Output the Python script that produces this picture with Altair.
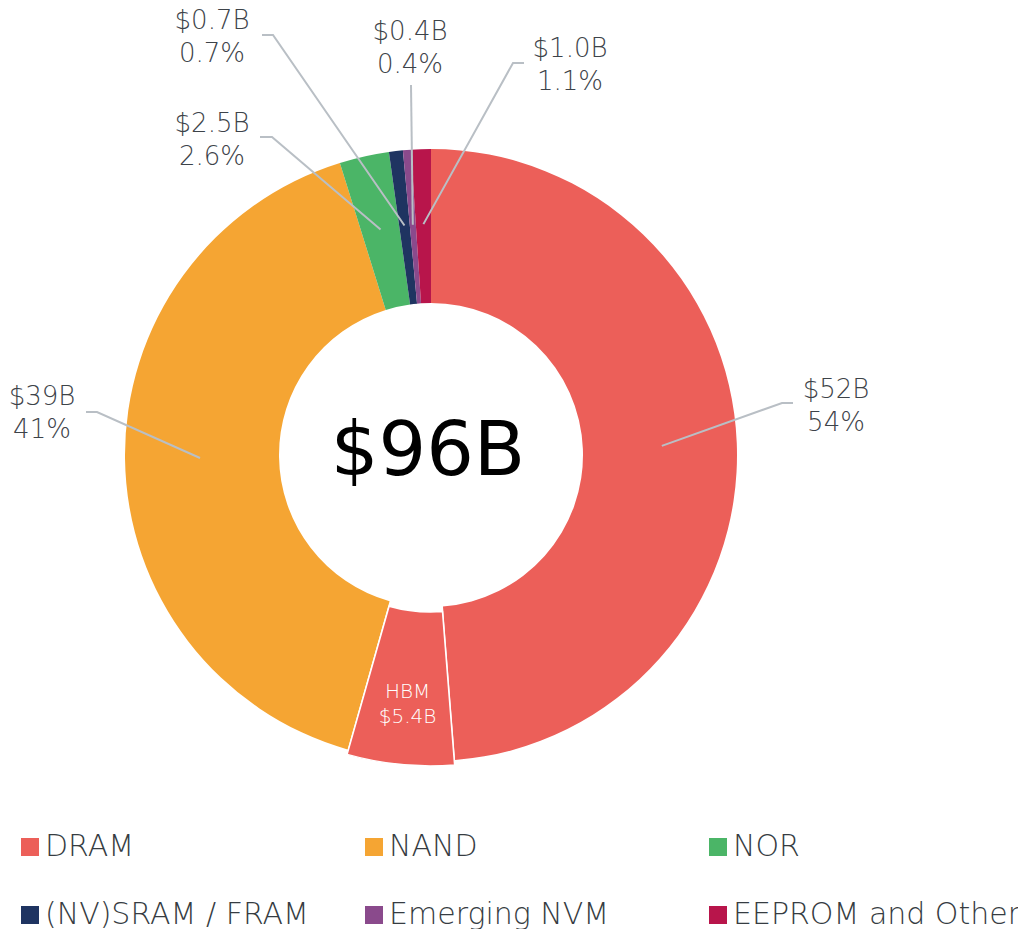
import math
import altair as alt
import pandas as pd

# ---------------- data ----------------
segments = ["DRAM", "HBM", "NAND", "NOR", "(NV)SRAM / FRAM", "Emerging NVM", "EEPROM and Other"]
groups = ["DRAM", "DRAM", "NAND", "NOR", "(NV)SRAM / FRAM", "Emerging NVM", "EEPROM and Other"]
values_b = [46.6, 5.4, 39.0, 2.5, 0.7, 0.4, 1.0]
value_text = ["$52B", "$5.4B", "$39B", "$2.5B", "$0.7B", "$0.4B", "$1.0B"]
share_text = ["54%", "", "41%", "2.6%", "0.7%", "0.4%", "1.1%"]

legend_order = ["DRAM", "NAND", "NOR", "(NV)SRAM / FRAM", "Emerging NVM", "EEPROM and Other"]
legend_colors = ["#EC5F59", "#F5A533", "#4BB567", "#1F3461", "#8A4A8C", "#B8154B"]

# ---------------- layout ----------------
W, H = 1010, 921
CX, CY = 423, 447
R_IN, R_OUT = 152, 306
R_LEAD = 231
EXPLODE = 5
FONT = "DejaVu Sans"
WEIGHT = 300
LABEL_COLOR = "#3d4349"

# label placement (bend point, end point, first-line text centre) per labelled segment
label_layout = {
    "DRAM": ((774, 395), (785, 395), (828, 382)),
    "NAND": ((89, 404), (78, 404), (34, 389)),
    "NOR": ((264, 129), (252, 129), (204, 116)),
    "(NV)SRAM / FRAM": ((265, 27), (254, 27), (204, 13)),
    "Emerging NVM": ((403, 77), (403, 77), (402, 24)),
    "EEPROM and Other": ((505, 55), (516, 55), (562, 41)),
}

TOTAL = sum(values_b)

rows = []
cum = 0.0
for s, g, v, vt, st in zip(segments, groups, values_b, value_text, share_text):
    rows.append(dict(segment=s, group=g, t0=cum, t1=cum + v, mid=cum + v / 2,
                     label=vt + ("\n" + st if st else "")))
    cum += v
df = pd.DataFrame(rows)


def polar(mid_value, r, cx=CX, cy=CY):
    a = mid_value / TOTAL * 2 * math.pi
    return cx + r * math.sin(a), cy - r * math.cos(a)


# leader lines
lead_rows = []
text_rows = []
for r in rows:
    if r["segment"] not in label_layout:
        continue
    bend, end, tc = label_layout[r["segment"]]
    sx, sy = polar(r["mid"], R_LEAD)
    for k, (px, py) in enumerate([(sx, sy), bend, end]):
        lead_rows.append(dict(segment=r["segment"], k=k, px=px, py=py))
    text_rows.append(dict(segment=r["segment"], px=tc[0], py=tc[1], label=r["label"]))
lead_df = pd.DataFrame(lead_rows)
text_df = pd.DataFrame(text_rows)

# HBM explode
hbm = df[df.segment == "HBM"].iloc[0]
ha = hbm["mid"] / TOTAL * 2 * math.pi
HX = CX + EXPLODE * math.sin(ha)
HY = CY - EXPLODE * math.cos(ha)
hx_t, hy_t = polar(hbm["mid"], 233, HX, HY)
hbm_text_df = pd.DataFrame([dict(px=hx_t, py=hy_t, label="HBM\n" + hbm["label"])])

center_df = pd.DataFrame([dict(px=CX - 3, py=CY - 3, label=f"${round(TOTAL)}B")])

xs = alt.Scale(domain=[0, W], nice=False, zero=False)
ys = alt.Scale(domain=[0, H], nice=False, zero=False, reverse=True)
theta_scale = alt.Scale(domain=[0, TOTAL])
color_scale = alt.Scale(domain=legend_order, range=legend_colors)

base = alt.Chart(df)

main_arc = base.transform_filter(alt.datum.segment != "HBM").mark_arc(
    innerRadius=R_IN, outerRadius=R_OUT
).encode(
    theta=alt.Theta("t0:Q", scale=theta_scale, stack=None),
    theta2="t1:Q",
    x=alt.value(CX),
    y=alt.value(CY),
    color=alt.Color("group:N", scale=color_scale, sort=legend_order,
                    legend=alt.Legend(
                        title=None, orient="none", legendX=7, legendY=824,
                        direction="horizontal", columns=3, gridAlign="all",
                        columnPadding=26, rowPadding=38, symbolType="square",
                        symbolSize=324, symbolStrokeWidth=0, labelFontSize=30,
                        labelFont=FONT, labelFontWeight=WEIGHT,
                        labelColor="#363c42", labelOffset=0,
                        labelLimit=500, padding=0,
                    )),
)

hbm_arc = base.transform_filter(alt.datum.segment == "HBM").mark_arc(
    innerRadius=R_IN, outerRadius=R_OUT, stroke="white", strokeWidth=1.5
).encode(
    theta=alt.Theta("t0:Q", scale=theta_scale, stack=None),
    theta2="t1:Q",
    x=alt.value(HX),
    y=alt.value(HY),
    color=alt.Color("group:N", scale=color_scale, legend=None),
)

leaders = alt.Chart(lead_df).mark_line(color="#b9bfc5", strokeWidth=2).encode(
    x=alt.X("px:Q", scale=xs, axis=None),
    y=alt.Y("py:Q", scale=ys, axis=None),
    detail="segment:N",
    order="k:O",
)

labels = alt.Chart(text_df).mark_text(
    font=FONT, fontSize=26, fontWeight=WEIGHT, color=LABEL_COLOR, lineBreak="\n",
    lineHeight=33, align="center", baseline="middle"
).encode(
    x=alt.X("px:Q", scale=xs, axis=None),
    y=alt.Y("py:Q", scale=ys, axis=None),
    text="label:N",
)

hbm_label = alt.Chart(hbm_text_df).mark_text(
    font=FONT, fontSize=20, fontWeight=WEIGHT, color="white", lineBreak="\n",
    lineHeight=25, align="center", baseline="middle"
).encode(
    x=alt.X("px:Q", scale=xs, axis=None),
    y=alt.Y("py:Q", scale=ys, axis=None),
    text="label:N",
)

center_label = alt.Chart(center_df).mark_text(
    font=FONT, fontSize=75, fontWeight="normal", color="black", align="center",
    baseline="middle"
).encode(
    x=alt.X("px:Q", scale=xs, axis=None),
    y=alt.Y("py:Q", scale=ys, axis=None),
    text="label:N",
)

chart = alt.layer(main_arc, hbm_arc, leaders, labels, hbm_label, center_label).properties(
    width=W, height=H, padding=0,
    autosize=alt.AutoSizeParams(type="none"),
).configure_view(stroke=None).resolve_scale(color="shared")

chart.save("out.html", embed_options={"renderer": "svg", "actions": False})
